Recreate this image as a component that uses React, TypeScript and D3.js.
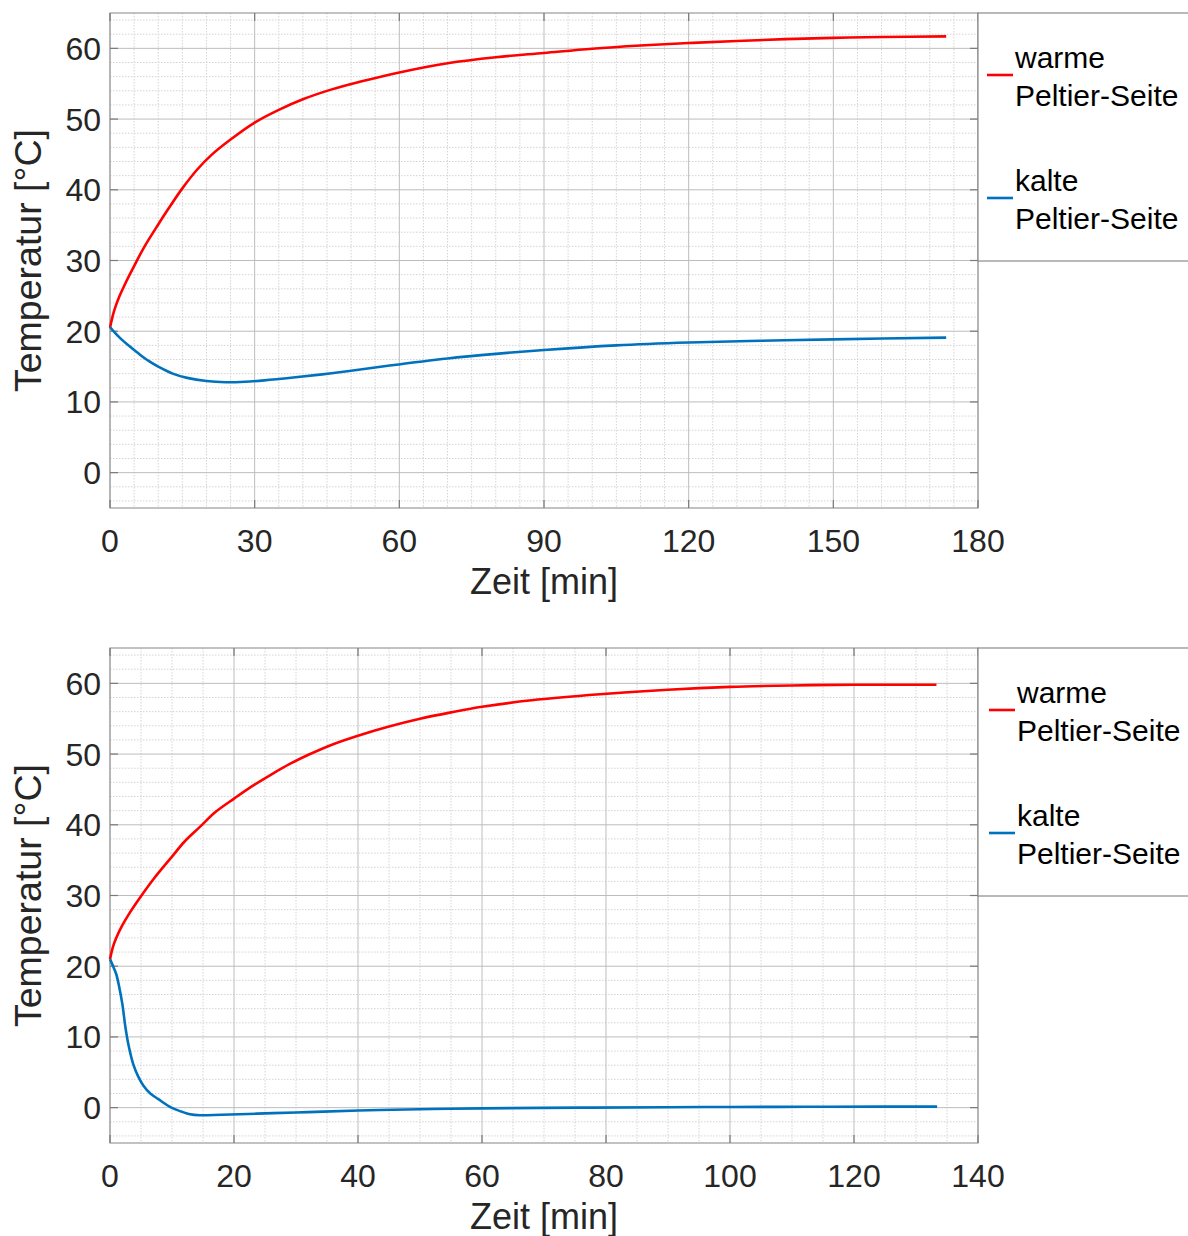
import React from "react";
import * as d3 from "d3";

// ---------- data ----------
const topWarmT = [0, 0.5, 1, 2, 3, 4, 5, 7, 10, 12, 15, 18, 21, 25, 30, 35, 40, 46, 52, 60, 70, 80, 90, 100, 110, 120, 130, 140, 150, 160, 173.4];
const topWarmV = [20.5, 22.0, 23.2, 25.0, 26.5, 27.9, 29.2, 31.8, 35.1, 37.2, 40.2, 42.8, 44.9, 47.1, 49.5, 51.3, 52.8, 54.2, 55.3, 56.6, 57.9, 58.75, 59.35, 59.95, 60.4, 60.75, 61.05, 61.3, 61.48, 61.6, 61.7];

const topColdT = [0, 1, 2, 4, 6, 8, 10, 13, 16, 20, 24, 28, 32, 38, 44, 50, 58, 70, 80, 90, 105, 120, 135, 150, 173.4];
const topColdV = [20.6, 19.8, 19.1, 17.9, 16.8, 15.8, 15.0, 14.0, 13.4, 12.95, 12.78, 12.85, 13.05, 13.45, 13.9, 14.4, 15.15, 16.15, 16.8, 17.35, 18.0, 18.4, 18.65, 18.85, 19.1];

const botWarmT = [0, 0.5, 1, 2, 3, 4.6, 7, 10, 12, 14.5, 17, 20, 23, 26, 29, 32, 36, 40, 45, 50, 55, 60, 68, 79, 90, 100, 110, 120, 133.3];
const botWarmV = [21.0, 22.8, 24.0, 25.8, 27.3, 29.4, 32.3, 35.5, 37.6, 39.7, 41.8, 43.7, 45.5, 47.1, 48.6, 49.9, 51.4, 52.6, 53.9, 55.0, 55.9, 56.7, 57.6, 58.45, 59.1, 59.5, 59.7, 59.8, 59.8];

const botColdT = [0, 0.6, 1.0, 1.5, 2.0, 2.5, 3.0, 3.8, 4.5, 5.4, 6.5, 7.8, 9.9, 11.5, 12.9, 14.5, 18, 23.7, 30, 34.4, 43.5, 52, 60, 76, 90, 100, 112, 124, 133.4];
const botColdV = [21.0, 19.8, 18.9, 17.0, 14.6, 11.3, 8.8, 6.0, 4.5, 3.1, 2.0, 1.2, 0.0, -0.55, -0.94, -1.08, -1.0, -0.85, -0.68, -0.56, -0.33, -0.2, -0.1, 0.0, 0.06, 0.1, 0.12, 0.14, 0.15];

const seriesNames = ["warme", "kalte"];
const seriesColors = ["#ff0000", "#0072bd"];
const legendSecondLine = "Peltier-Seite";
const xLabel = "Zeit [min]";
const yLabel = "Temperatur [°C]";
const yTicks = [0, 10, 20, 30, 40, 50, 60];
const topXTicks = [0, 30, 60, 90, 120, 150, 180];
const botXTicks = [0, 20, 40, 60, 80, 100, 120, 140];

const FONT = "'Liberation Sans', Arial, Helvetica, sans-serif";

type Pt = [number, number];
const zip = (a: number[], b: number[]): Pt[] => a.map((t, i) => [t, b[i]]);

interface PanelProps {
  top: number;
  xTicks: number[];
  xMinorStep: number;
  warm: Pt[];
  cold: Pt[];
  legendX: number;
}

const L = 110, R = 978, H = 495;

function Panel({ top, xTicks, xMinorStep, warm, cold, legendX }: PanelProps) {
  const bottom = top + H;
  const xMax = xTicks[xTicks.length - 1];
  const x = d3.scaleLinear().domain([0, xMax]).range([L, R]);
  const y = d3.scaleLinear().domain([-5, 65]).range([bottom, top]);
  const line = d3
    .line<Pt>()
    .x((d) => x(d[0]))
    .y((d) => y(d[1]))
    .curve(d3.curveCatmullRom.alpha(0.5));

  const xMinor = d3.range(0, xMax + 0.001, xMinorStep).filter((v) => !xTicks.includes(v));
  const yMinor = d3.range(-4, 65, 2).filter((v) => !yTicks.includes(v));

  return (
    <g>
      {/* minor grid */}
      {xMinor.map((v) => (
        <line key={"xm" + v} x1={x(v)} x2={x(v)} y1={top} y2={bottom} stroke="#d4d4d4" strokeWidth={1} strokeDasharray="1.5,1.5" />
      ))}
      {yMinor.map((v) => (
        <line key={"ym" + v} x1={L} x2={R} y1={y(v)} y2={y(v)} stroke="#d4d4d4" strokeWidth={1} strokeDasharray="1.5,1.5" />
      ))}
      {/* major grid */}
      {xTicks.map((v) => (
        <line key={"xg" + v} x1={x(v)} x2={x(v)} y1={top} y2={bottom} stroke="#bdbdbd" strokeWidth={1} />
      ))}
      {yTicks.map((v) => (
        <line key={"yg" + v} x1={L} x2={R} y1={y(v)} y2={y(v)} stroke="#bdbdbd" strokeWidth={1} />
      ))}
      {/* box */}
      <rect x={L} y={top} width={R - L} height={H} fill="none" stroke="#9a9a9a" strokeWidth={1.2} />
      {/* ticks */}
      {xTicks.map((v) => (
        <g key={"xt" + v}>
          <line x1={x(v)} x2={x(v)} y1={bottom} y2={bottom - 8} stroke="#7a7a7a" strokeWidth={1.2} />
          <line x1={x(v)} x2={x(v)} y1={top} y2={top + 8} stroke="#7a7a7a" strokeWidth={1.2} />
          <text x={x(v)} y={bottom + 44} textAnchor="middle" fontSize={32} fill="#262626" fontFamily={FONT}>
            {v}
          </text>
        </g>
      ))}
      {yTicks.map((v) => (
        <g key={"yt" + v}>
          <line x1={L} x2={L + 8} y1={y(v)} y2={y(v)} stroke="#7a7a7a" strokeWidth={1.2} />
          <line x1={R} x2={R - 8} y1={y(v)} y2={y(v)} stroke="#7a7a7a" strokeWidth={1.2} />
          <text x={101} y={y(v)} dy="0.36em" textAnchor="end" fontSize={32} fill="#262626" fontFamily={FONT}>
            {v}
          </text>
        </g>
      ))}
      {/* data */}
      <path d={line(warm) || ""} fill="none" stroke={seriesColors[0]} strokeWidth={2.6} />
      <path d={line(cold) || ""} fill="none" stroke={seriesColors[1]} strokeWidth={2.6} />
      {/* axis labels */}
      <text x={(L + R) / 2} y={bottom + 86} textAnchor="middle" fontSize={36} fill="#262626" fontFamily={FONT}>
        {xLabel}
      </text>
      <text transform={`translate(41,${top + H / 2}) rotate(-90)`} textAnchor="middle" fontSize={37.5} fill="#262626" fontFamily={FONT}>
        {yLabel}
      </text>
      {/* legend */}
      <rect x={R} y={top} width={260} height={248} fill="#ffffff" stroke="#8a8a8a" strokeWidth={1.2} />
      {seriesNames.map((n, i) => {
        const base = top + 55 + i * 123;
        return (
          <g key={n}>
            <line x1={legendX - 28} x2={legendX - 2} y1={base + 7} y2={base + 7} stroke={seriesColors[i]} strokeWidth={2.6} />
            <text x={legendX} y={base} fontSize={30} fill="#000" fontFamily={FONT}>
              {n}
            </text>
            <text x={legendX} y={base + 38} fontSize={30} fill="#000" fontFamily={FONT}>
              {legendSecondLine}
            </text>
          </g>
        );
      })}
    </g>
  );
}

export default function App() {
  return (
    <svg
      width={1188}
      height={1236}
      style={{ position: "absolute", left: 0, top: 0, display: "block", background: "#fff" }}
    >
      <rect x={0} y={0} width={1188} height={1236} fill="#fff" />
      <Panel top={13} xTicks={topXTicks} xMinorStep={5} warm={zip(topWarmT, topWarmV)} cold={zip(topColdT, topColdV)} legendX={1015} />
      <Panel top={648} xTicks={botXTicks} xMinorStep={5} warm={zip(botWarmT, botWarmV)} cold={zip(botColdT, botColdV)} legendX={1017} />
    </svg>
  );
}
